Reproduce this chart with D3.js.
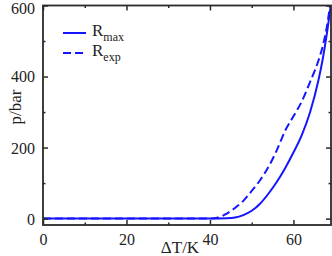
<!DOCTYPE html>
<html>
<head>
<meta charset="utf-8">
<script src="https://cdn.jsdelivr.net/npm/d3@7"></script>
<style>
    body { margin: 0; background: #fff; }
    svg { display: block; }
    text { font-family: "Liberation Serif", "DejaVu Serif", serif; fill: #222; }
</style>
</head>
<body>
<svg id="chart" width="332" height="256"></svg>
<script>
// data
var rmaxT = [0, 40, 44, 46, 48, 50, 52, 54, 56, 58, 60, 62, 64, 66, 67, 68, 69];
var rmaxP = [0, 0, 1, 3, 10, 22, 42, 70, 103, 142, 186, 235, 300, 390, 448, 520, 605];

var rexpT = [0, 40, 42, 44, 46, 48, 50, 52, 54, 56, 58, 60, 62, 64, 66, 67, 68, 69];
var rexpP = [0, 0, 3, 14, 30, 50, 78, 108, 145, 192, 247, 288, 330, 385, 445, 485, 540, 620];

var xTicks = [0, 20, 40, 60];
var xMinor = [10, 30, 50];
var yTicks = [0, 200, 400, 600];
var yMinor = [100, 300, 500];

var svg = d3.select('#chart');

// plot box (window.top is reserved, so I use other names)
var boxLeft = 43, boxRight = 331, boxTop = 5.5, boxBottom = 225;
var frameColor = '#2a2a2a';

var x = d3.scaleLinear().domain([0, 69]).range([boxLeft, boxRight]);
var y = d3.scaleLinear().domain([-18, 600]).range([boxBottom, boxTop]);

svg.append('defs').append('clipPath').attr('id', 'clip')
    .append('rect')
    .attr('x', boxLeft).attr('y', boxTop)
    .attr('width', boxRight - boxLeft).attr('height', boxBottom - boxTop);

// I zip the arrays into points
var zip = function (xs, ys) {
    return xs.map(function (d, i) { return [d, ys[i]]; });
};

var line = d3.line()
    .x(function (d) { return x(d[0]); })
    .y(function (d) { return y(d[1]); })
    .curve(d3.curveMonotoneX);

var plot = svg.append('g').attr('clip-path', 'url(#clip)');

plot.append('path')
    .datum(zip(rexpT, rexpP))
    .attr('d', line)
    .attr('fill', 'none')
    .attr('stroke', '#1515ff')
    .attr('stroke-width', 2)
    .attr('stroke-dasharray', '8,4');

plot.append('path')
    .datum(zip(rmaxT, rmaxP))
    .attr('d', line)
    .attr('fill', 'none')
    .attr('stroke', '#1515ff')
    .attr('stroke-width', 2);

// axes, ticks inside on all four sides
var axisBottom = d3.axisBottom(x).tickValues(xTicks).tickSizeInner(-5).tickSizeOuter(0).tickPadding(9);
var axisTop = d3.axisTop(x).tickValues(xTicks).tickSizeInner(-5).tickSizeOuter(0).tickFormat('');
var axisLeft = d3.axisLeft(y).tickValues(yTicks).tickSizeInner(-5).tickSizeOuter(0).tickPadding(8);
var axisRight = d3.axisRight(y).tickValues(yTicks).tickSizeInner(-5).tickSizeOuter(0).tickFormat('');

var minorBottom = d3.axisBottom(x).tickValues(xMinor).tickSize(-2.5).tickFormat('');
var minorTop = d3.axisTop(x).tickValues(xMinor).tickSize(-2.5).tickFormat('');
var minorLeft = d3.axisLeft(y).tickValues(yMinor).tickSize(-2.5).tickFormat('');
var minorRight = d3.axisRight(y).tickValues(yMinor).tickSize(-2.5).tickFormat('');

var drawAxis = function (axis, tx, ty) {
    var g = svg.append('g')
        .attr('transform', 'translate(' + tx + ',' + ty + ')')
        .attr('font-family', '"Liberation Serif", serif')
        .call(axis);
    g.select('.domain').remove();
    g.selectAll('line').attr('stroke', frameColor).attr('stroke-width', 1.5);
    g.selectAll('text')
        .style('font-family', '"Liberation Serif", serif')
        .style('font-size', '16px')
        .attr('fill', '#222');
    return g;
};

drawAxis(axisBottom, 0, boxBottom);
drawAxis(axisTop, 0, boxTop);
var gl = drawAxis(axisLeft, boxLeft, 0);
drawAxis(axisRight, boxRight, 0);
drawAxis(minorBottom, 0, boxBottom);
drawAxis(minorTop, 0, boxTop);
drawAxis(minorLeft, boxLeft, 0);
drawAxis(minorRight, boxRight, 0);

gl.selectAll('text').attr('dy', '0.34em');
// the top label sits a bit low so it is not cut at the edge
gl.selectAll('.tick').filter(function (d) { return d === 600; })
    .select('text').attr('dy', '0.5em');

svg.append('rect')
    .attr('x', boxLeft).attr('y', boxTop)
    .attr('width', boxRight - boxLeft).attr('height', boxBottom - boxTop)
    .attr('fill', 'none')
    .attr('stroke', frameColor)
    .attr('stroke-width', 1.8);

// axis titles
svg.append('text')
    .attr('x', 180).attr('y', 253)
    .attr('text-anchor', 'middle')
    .style('font-size', '17px')
    .text('\u0394T/K');

svg.append('text')
    .attr('transform', 'translate(21,107) rotate(-90)')
    .attr('text-anchor', 'middle')
    .style('font-size', '17px')
    .text('p/bar');

// legend
var legend = [
    { name: 'R', sub: 'max', dash: null, y: 33 },
    { name: 'R', sub: 'exp', dash: '8,4', y: 53 }
];

var lg = svg.append('g');
legend.forEach(function (d) {
    lg.append('line')
        .attr('x1', 63).attr('x2', 86)
        .attr('y1', d.y).attr('y2', d.y)
        .attr('stroke', '#1515ff')
        .attr('stroke-width', 2)
        .attr('stroke-dasharray', d.dash);
    var t = lg.append('text')
        .attr('x', 92).attr('y', d.y + 3)
        .style('font-size', '17px');
    t.append('tspan').text(d.name);
    t.append('tspan')
        .attr('dy', 5)
        .style('font-size', '12px')
        .text(d.sub);
});
</script>
</body>
</html>
